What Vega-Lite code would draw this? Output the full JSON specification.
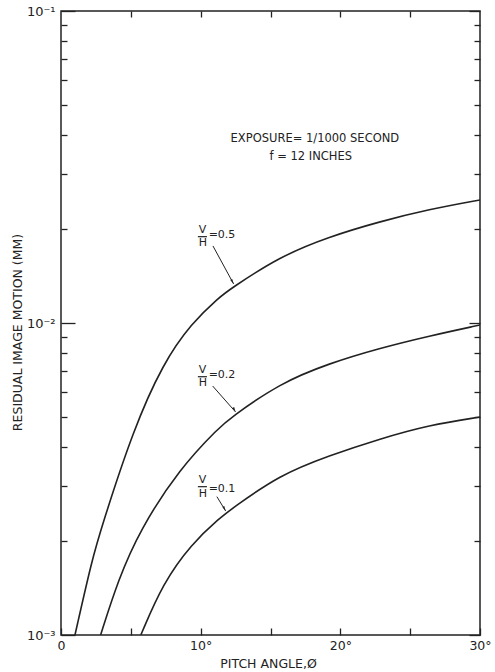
{
  "$schema": "https://vega.github.io/schema/vega-lite/v6.json",
  "width": 419,
  "height": 624,
  "autosize": "none",
  "padding": {"left": 61, "top": 11, "right": 15, "bottom": 37},
  "background": "white",
  "config": {
    "view": {"stroke": "#222", "strokeWidth": 1.5},
    "font": "DejaVu Sans",
    "axis": {"labelColor": "#222", "titleColor": "#222", "tickColor": "#222", "tickWidth": 1.3, "grid": false, "domain": false, "labelFlush": false, "labelOverlap": false}
  },
  "datasets": {
    "curves": [
      {"vh": "0.5", "phi": 1.0, "m": 0.001},
      {"vh": "0.5", "phi": 2.214, "m": 0.001739},
      {"vh": "0.5", "phi": 2.907, "m": 0.00222},
      {"vh": "0.5", "phi": 5.164, "m": 0.00454},
      {"vh": "0.5", "phi": 7.307, "m": 0.007428},
      {"vh": "0.5", "phi": 9.336, "m": 0.009977},
      {"vh": "0.5", "phi": 11.357, "m": 0.012119},
      {"vh": "0.5", "phi": 12.071, "m": 0.012806},
      {"vh": "0.5", "phi": 15.643, "m": 0.01632},
      {"vh": "0.5", "phi": 19.21, "m": 0.01891},
      {"vh": "0.5", "phi": 22.79, "m": 0.02112},
      {"vh": "0.5", "phi": 26.36, "m": 0.02314},
      {"vh": "0.5", "phi": 30, "m": 0.0248},
      {"vh": "0.2", "phi": 2.836, "m": 0.001},
      {"vh": "0.2", "phi": 4.093, "m": 0.001501},
      {"vh": "0.2", "phi": 5.643, "m": 0.00217},
      {"vh": "0.2", "phi": 8.5, "m": 0.003421},
      {"vh": "0.2", "phi": 11.357, "m": 0.004642},
      {"vh": "0.2", "phi": 12.071, "m": 0.004943},
      {"vh": "0.2", "phi": 15.643, "m": 0.006407},
      {"vh": "0.2", "phi": 19.214, "m": 0.007428},
      {"vh": "0.2", "phi": 22.786, "m": 0.008297},
      {"vh": "0.2", "phi": 26.357, "m": 0.009085},
      {"vh": "0.2", "phi": 30, "m": 0.009853},
      {"vh": "0.1", "phi": 5.714, "m": 0.001},
      {"vh": "0.1", "phi": 7.307, "m": 0.001468},
      {"vh": "0.1", "phi": 9.336, "m": 0.001957},
      {"vh": "0.1", "phi": 11.357, "m": 0.002371},
      {"vh": "0.1", "phi": 12.307, "m": 0.002553},
      {"vh": "0.1", "phi": 15.643, "m": 0.003257},
      {"vh": "0.1", "phi": 19.214, "m": 0.003761},
      {"vh": "0.1", "phi": 22.786, "m": 0.004247},
      {"vh": "0.1", "phi": 26.357, "m": 0.00471},
      {"vh": "0.1", "phi": 30, "m": 0.004995}
    ],
    "notes": [
      {"phi": 12.14, "m": 0.0388, "t": "EXPOSURE= 1/1000 SECOND"},
      {"phi": 14.93, "m": 0.03412, "t": "f = 12 INCHES"}
    ],
    "fractions": [
      {"phi": 9.86, "m": 0.01986, "t": "V"},
      {"phi": 9.86, "m": 0.018, "t": "H"},
      {"phi": 10.57, "m": 0.01914, "t": "=0.5"},
      {"phi": 9.86, "m": 0.007069, "t": "V"},
      {"phi": 9.86, "m": 0.006407, "t": "H"},
      {"phi": 10.57, "m": 0.006811, "t": "=0.2"},
      {"phi": 9.86, "m": 0.00314, "t": "V"},
      {"phi": 9.86, "m": 0.002831, "t": "H"},
      {"phi": 10.57, "m": 0.002931, "t": "=0.1"}
    ],
    "bars": [
      {"phi": 9.8, "phi2": 10.45, "m": 0.01891},
      {"phi": 9.8, "phi2": 10.45, "m": 0.006727},
      {"phi": 9.8, "phi2": 10.45, "m": 0.002988}
    ],
    "arrows": [
      {"phi": 10.88, "m": 0.01766, "phi2": 12.36, "m2": 0.01334},
      {"phi": 10.86, "m": 0.00628, "phi2": 12.5, "m2": 0.005185},
      {"phi": 11.16, "m": 0.002776, "phi2": 11.79, "m2": 0.002497}
    ]
  },
  "resolve": {"axis": {"x": "independent", "y": "independent"}},
  "layer": [
    {
      "data": {"name": "curves"},
      "mark": {"type": "line", "interpolate": "basis", "color": "#222", "strokeWidth": 1.6, "clip": true},
      "encoding": {
        "x": {"field": "phi", "type": "quantitative", "scale": {"domain": [0, 30], "nice": false, "zero": false},
          "axis": {"orient": "bottom", "values": [0, 5, 10, 15, 20, 25, 30], "tickSize": -7, "labelPadding": 11,
            "labelExpr": "datum.value == 0 ? '0' : (datum.value % 10 == 0 ? datum.value + '°' : '')",
            "labelFontSize": 12.5, "title": "PITCH ANGLE,Ø", "titleFontSize": 12.5, "titleFontWeight": "normal",
            "titleX": 207, "titleY": 28, "titleBaseline": "middle", "titleAlign": "center"}},
        "y": {"field": "m", "type": "quantitative", "scale": {"type": "log", "domain": [0.001, 0.1], "nice": false},
          "axis": {"orient": "left",
            "values": [0.001, 0.002, 0.003, 0.004, 0.005, 0.006, 0.007, 0.008, 0.009, 0.01, 0.02, 0.03, 0.04, 0.05, 0.06, 0.07, 0.08, 0.09, 0.1],
            "labelExpr": "datum.value == 0.1 ? '10⁻¹' : (datum.value == 0.01 ? '10⁻²' : (datum.value == 0.001 ? '10⁻³' : ''))",
            "tickSize": {"condition": {"test": "datum.value == 0.1 || datum.value == 0.01 || datum.value == 0.001", "value": -14}, "value": -6},
            "labelPadding": 20, "labelFontSize": 13,
            "title": "RESIDUAL IMAGE MOTION (MM)", "titleFontSize": 12.5, "titleFontWeight": "normal",
            "titleX": -44, "titleY": 321, "titleAngle": -90, "titleBaseline": "middle", "titleAlign": "center"}},
        "detail": {"field": "vh"}
      }
    },
    {
      "data": {"name": "notes"},
      "mark": {"type": "text", "align": "left", "baseline": "middle", "fontSize": 11.5, "color": "#222", "fill": "#222"},
      "encoding": {
        "x": {"field": "phi", "type": "quantitative",
          "axis": {"orient": "top", "values": [5, 10, 15, 20, 25], "tickSize": -6, "labels": false, "title": null}},
        "y": {"field": "m", "type": "quantitative",
          "axis": {"orient": "right",
            "values": [0.001, 0.002, 0.003, 0.004, 0.005, 0.006, 0.007, 0.008, 0.009, 0.01, 0.02, 0.03, 0.04, 0.05, 0.06, 0.07, 0.08, 0.09, 0.1],
            "tickSize": {"condition": {"test": "datum.value == 0.1 || datum.value == 0.01 || datum.value == 0.001", "value": -11}, "value": -6},
            "labels": false, "title": null}},
        "text": {"field": "t"}
      }
    },
    {
      "data": {"name": "fractions"},
      "mark": {"type": "text", "align": "left", "baseline": "middle", "fontSize": 11, "color": "#222", "fill": "#222"},
      "encoding": {
        "x": {"field": "phi", "type": "quantitative", "axis": null},
        "y": {"field": "m", "type": "quantitative", "axis": null},
        "text": {"field": "t"}
      }
    },
    {
      "data": {"name": "bars"},
      "mark": {"type": "rule", "color": "#222", "strokeWidth": 1.2},
      "encoding": {
        "x": {"field": "phi", "type": "quantitative", "axis": null},
        "x2": {"field": "phi2"},
        "y": {"field": "m", "type": "quantitative", "axis": null}
      }
    },
    {
      "data": {"name": "arrows"},
      "mark": {"type": "rule", "color": "#222", "strokeWidth": 1},
      "encoding": {
        "x": {"field": "phi", "type": "quantitative", "axis": null},
        "x2": {"field": "phi2"},
        "y": {"field": "m", "type": "quantitative", "axis": null},
        "y2": {"field": "m2"}
      }
    },
    {
      "data": {"name": "arrows"},
      "mark": {"type": "point", "shape": "M0,0L-0.35,1.6L0.35,1.6Z", "filled": true, "color": "#222", "opacity": 1, "size": 40, "angle": 152},
      "encoding": {
        "x": {"field": "phi2", "type": "quantitative", "axis": null},
        "y": {"field": "m2", "type": "quantitative", "axis": null}
      }
    }
  ]
}
